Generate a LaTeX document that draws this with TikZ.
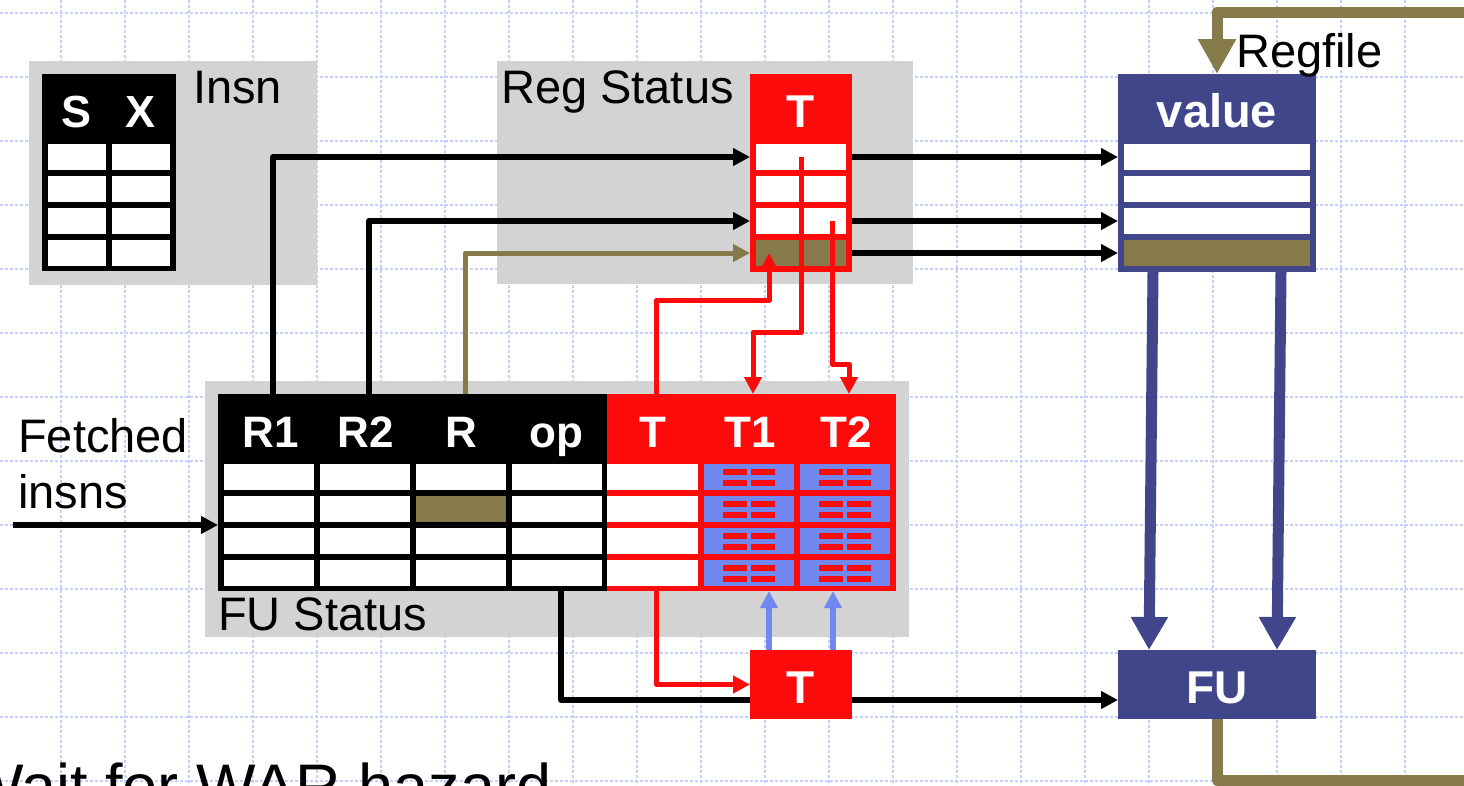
\documentclass[tikz,border=0pt]{standalone}
\usepackage{fontspec}
\setmainfont{Liberation Sans}
\usetikzlibrary{arrows.meta,calc}
\definecolor{myred}{RGB}{255,10,10}
\definecolor{olv}{RGB}{134,122,74}
\definecolor{nvy}{RGB}{65,70,138}
\definecolor{lblue}{RGB}{112,136,240}
\definecolor{gry}{RGB}{211,211,211}
\definecolor{gridc}{RGB}{196,208,248}
\begin{document}
\begin{tikzpicture}[x=1pt,y=-1pt,
  gridline/.style={draw=gridc,line width=1.5pt,dash pattern=on 3pt off 2pt},
  blk/.style={inner sep=0pt,outer sep=0pt,draw=none},
  greybox/.style={blk,fill=gry},
  cell/.style={blk,fill=white,minimum height=26pt},
  lbl/.style={inner sep=0pt,anchor=base west,font=\fontsize{47}{51}\selectfont},
  hdr/.style={inner sep=0pt,anchor=base,text=white,font=\bfseries\fontsize{44}{48}\selectfont},
  bigh/.style={inner sep=0pt,anchor=base,text=white,font=\bfseries\fontsize{46}{50}\selectfont},
  con/.style={line width=6pt,line join=round},
  tip/.style={-{Triangle[length=17pt,width=17pt]}},
  redc/.style={draw=myred,line width=5pt,line join=round},
  olvc/.style={draw=olv,line width=5pt,line join=round},
  lbc/.style={draw=lblue,line width=6pt,-{Triangle[length=17pt,width=17pt]}},
  nvc/.style={draw=nvy,line width=11pt,-{Triangle[length=33pt,width=35pt]}},
  loopc/.style={draw=olv,line width=11pt,line join=round,-{Triangle[length=35pt,width=36pt]}}
]
\useasboundingbox (0,0) rectangle (1464,785);
\clip (0,0) rectangle (1464,785);
\fill[white] (0,0) rectangle (1464,785);
% grid
\foreach \x in {61,125,...,1464} \draw[gridline] (\x,0) -- (\x,785);
\foreach \y in {13,77,...,785} \draw[gridline] (0,\y) -- (1464,\y);

% grey areas
\node[greybox,minimum width=288pt,minimum height=224pt] (insng) at (173,173) {};
\node[greybox,minimum width=416pt,minimum height=223pt] (rsg) at (705,172.5) {};
\node[greybox,minimum width=704pt,minimum height=256pt] (fug) at (557,509) {};

% Insn table
\node[blk,fill=black,minimum width=134pt,minimum height=197pt] (insT) at (109,172.5) {};
\foreach \y [count=\i] in {157,189,221,253} {
  \node[cell,minimum width=58pt] (insa\i) at (77,\y) {};
  \node[cell,minimum width=58pt] (insb\i) at (141,\y) {};
}
\node[bigh,font=\bfseries\fontsize{45}{49}\selectfont] (hS) at (77,127) {S};
\node[bigh,font=\bfseries\fontsize{45}{49}\selectfont] (hX) at (141,127) {X};
\node[lbl] (insnl) at (193,103) {Insn};

% Reg status table
\node[blk,fill=myred,minimum width=102pt,minimum height=198pt] (rsT) at (801,173) {};
\foreach \y [count=\i] in {157,189,221} \node[cell,minimum width=90pt] (rs\i) at (801,\y) {};
\node[cell,fill=olv,minimum width=90pt] (rs4) at (801,253) {};
\node[bigh] (hRT) at (801,127) {T};
\node[lbl] (rsl) at (501,103) {Reg Status};

% Regfile
\node[blk,fill=nvy,minimum width=198pt,minimum height=198pt] (rfT) at (1217,173) {};
\foreach \y [count=\i] in {157,189,221} \node[cell,minimum width=186pt] (rf\i) at (1217,\y) {};
\node[cell,fill=olv,minimum width=186pt] (rf4) at (1217,253) {};
\node[bigh,font=\bfseries\fontsize{47}{51}\selectfont] (hval) at (1217,127) {value};
\node[lbl] (rfl) at (1236,67) {Regfile};

% FU status table
\node[blk,fill=black,minimum width=389pt,minimum height=197pt] (fublk) at (412.5,492.5) {};
\node[blk,fill=myred,minimum width=289pt,minimum height=197pt] (furd) at (751.5,492.5) {};
\foreach \y [count=\i] in {477,509,541,573} {
  \node[cell,minimum width=90pt] (fua\i) at (269,\y) {};
  \node[cell,minimum width=90pt] (fub\i) at (365,\y) {};
  \node[cell,minimum width=90pt] (fuc\i) at (461,\y) {};
  \node[cell,minimum width=90pt] (fud\i) at (557,\y) {};
  \node[cell,minimum width=91pt] (fut\i) at (652.5,\y) {};
  \node[cell,fill=lblue,minimum width=90pt] (fuu\i) at (749,\y) {};
  \node[cell,fill=lblue,minimum width=90pt] (fuv\i) at (845,\y) {};
  \foreach \cx in {749,845} {
    \fill[myred] (\cx-26,\y-8) rectangle (\cx-2,\y-2);
    \fill[myred] (\cx+2,\y-8) rectangle (\cx+26,\y-2);
    \fill[myred] (\cx-26,\y+3) rectangle (\cx-2,\y+9);
    \fill[myred] (\cx+2,\y+3) rectangle (\cx+26,\y+9);
  }
}
\fill[olv] (fuc2.south west) rectangle (fuc2.north east);
\node[hdr] (hR1) at (271,447) {R1};
\node[hdr] (hR2) at (366,447) {R2};
\node[hdr] (hR) at (461,447) {R};
\node[hdr] (hop) at (556,447) {op};
\node[hdr] (hT) at (653,447) {T};
\node[hdr] (hT1) at (750,447) {T1};
\node[hdr] (hT2) at (846,447) {T2};
\node[lbl] (fusl) at (218,630) {FU Status};

% bottom boxes
\node[blk,fill=myred,minimum width=102pt,minimum height=69pt] (tbox) at (801,684.5) {};
\node[bigh] at (801,703) {T};
\node[blk,fill=nvy,minimum width=198pt,minimum height=69pt] (fubox) at (1217,684.5) {};
\node[bigh] at (1217,703) {FU};

% fetched
\node[lbl] (fetl) at (18,452) {Fetched};
\node[lbl] (insl) at (18,508) {insns};
\coordinate (fin) at (13,525);
\draw[con,tip] (fin) -- (fin -| fublk.west);

% black connectors to reg status
\draw[con,tip] ($(fua1 |- fublk.north)+(4,0)$) |- (rsT.west |- rs1);
\draw[con,tip] ($(fub1 |- fublk.north)+(4,0)$) |- (rsT.west |- rs3);
\draw[olvc,-{Triangle[length=17pt,width=17pt]}] ($(fuc1 |- fublk.north)+(4,0)$) |- (rsT.west |- rs4);
% reg status to regfile
\draw[con,tip] (rsT.east |- rs1) -- (rfT.west |- rf1);
\draw[con,tip] (rsT.east |- rs3) -- (rfT.west |- rf3);
\draw[con,tip] (rsT.east |- rs4) -- (rfT.west |- rf4);

% red connectors
\draw[redc,-{Triangle[length=17pt,width=17pt]}] (rs1.center) -- ++(0,175) -| ($(fuu1 |- furd.north)+(4,0)$);
\draw[redc,-{Triangle[length=17pt,width=17pt]}] ($(rs3.center)+(31,0)$) -- ++(0,143) -| ($(fuv1 |- furd.north)+(4,0)$);
\draw[redc,-{Triangle[length=17pt,width=17pt]}] ($(fut1 |- furd.north)+(4,0)$) -- ++(0,-94) -| ($(rs4.center)+(-32,0)$);
\draw[redc,-{Triangle[length=17pt,width=17pt]}] ($(fut4 |- furd.south)+(4,0)$) |- (tbox.west);

% black op to T box to FU
\draw[con] ($(fud4 |- fublk.south)+(4,0)$) |- ($(tbox.west)+(0,15.5)$);
\draw[con,tip] ($(tbox.east)+(0,15.5)$) -- ($(fubox.west)+(0,15.5)$);

% light blue
\coordinate (lb1) at ($(tbox.north)+(-32,0)$);
\coordinate (lb2) at ($(tbox.north)+(32,0)$);
\draw[lbc] (lb1) -- (lb1 |- furd.south);
\draw[lbc] (lb2) -- (lb2 |- furd.south);

% navy
\draw[nvc] ($(rfT.south)+(-64,0)$) -- ($(fubox.north)+(-68,0)$);
\draw[nvc] ($(rfT.south)+(64,0)$) -- ($(fubox.north)+(60,0)$);

% olive loop
\coordinate (loopA) at (1469,780);
\coordinate (loopB) at (1469,12);
\draw[loopc] (fubox.south) |- (loopA) -- (loopB) -| (rfT.north);

% bottom text
\node[inner sep=0pt,anchor=base west,font=\fontsize{63}{67}\selectfont] (waitl) at (-36,808) {Wait for WAR hazard};
\end{tikzpicture}
\end{document}
